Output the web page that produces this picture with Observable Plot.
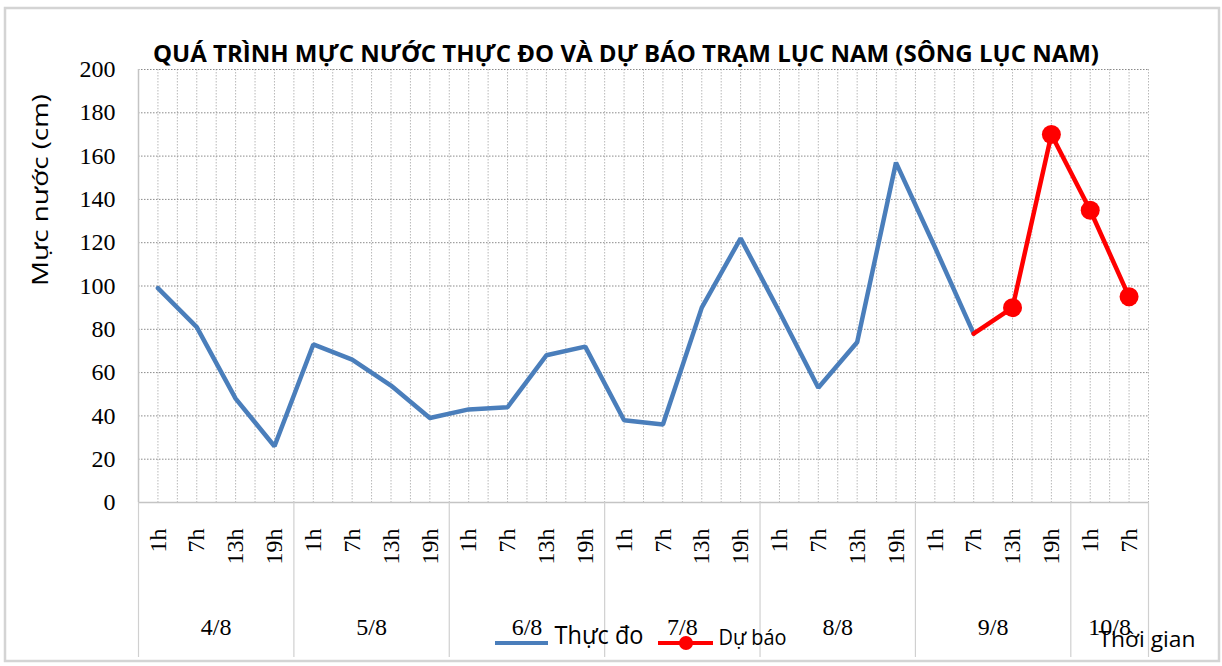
<!DOCTYPE html>
<html><head><meta charset="utf-8">
<script src="https://cdn.jsdelivr.net/npm/d3@7"></script>
<script src="https://cdn.jsdelivr.net/npm/@observablehq/plot@0.6"></script>
<style>html,body{margin:0;padding:0;background:#fff;}</style>
</head><body><div id="chart"></div>
<script>
const title = "QUÁ TRÌNH MỰC NƯỚC THỰC ĐO VÀ DỰ BÁO TRẠM LỤC NAM (SÔNG LỤC NAM)";
const yLabel = "Mực nước (cm)";
const xLabel = "Thời gian";
const seriesNames = ["Thực đo", "Dự báo"];
const catDay = ["4/8","4/8","4/8","4/8","5/8","5/8","5/8","5/8","6/8","6/8","6/8","6/8",
                "7/8","7/8","7/8","7/8","8/8","8/8","8/8","8/8","9/8","9/8","9/8","9/8","10/8","10/8"];
const catHour = ["1h","7h","13h","19h","1h","7h","13h","19h","1h","7h","13h","19h",
                 "1h","7h","13h","19h","1h","7h","13h","19h","1h","7h","13h","19h","1h","7h"];
const observed = [99,81,48,26, 73,66,54,39, 43,44,68,72, 38,36,90,122, 88,53,74,157, 118,78];
const forecastStart = 21;
const forecast = [78,90,170,135,95];
const yTicks = [0,20,40,60,80,100,120,140,160,180,200];

const cats = catDay.map((d,i)=>({i, day:d, hour:catHour[i]}));
const obsData = observed.map((v,i)=>({i, v}));
const fcData = forecast.map((v,k)=>({i: forecastStart+k, v}));
const n = cats.length;
const halfTicks = d3.range(0, n, 0.5);
const dayGroups = d3.groups(cats, d=>d.day).map(([day, arr])=>({day, c: d3.mean(arr, d=>d.i), lo: d3.min(arr,d=>d.i)-0.5, hi: d3.max(arr,d=>d.i)+0.5}));
const seps = Array.from(new Set(dayGroups.flatMap(g=>[g.lo, g.hi])));

const serif = "'Liberation Serif', serif";
const sans = "'Open Sans', sans-serif";
const blue = "#4a7ebb", red = "#ff0000";

const svg = Plot.plot({
  width: 1222, height: 666,
  marginLeft: 138, marginRight: 74, marginTop: 69, marginBottom: 164,
  x: {type: "linear", domain: [-0.5, n - 0.5], axis: null},
  y: {domain: [0, 200], axis: null},
  style: {background: "#fff", color: "#000", fontFamily: sans, overflow: "visible"},
  marks: [
    // chart border
    (index, scales, values, dim) => {
      const r = d3.create("svg:rect").attr("x", 5).attr("y", 8).attr("width", dim.width - 8).attr("height", dim.height - 13)
        .attr("fill", "none").attr("stroke", "#d4d4d4").attr("stroke-width", 2.5);
      return r.node();
    },
    Plot.ruleX(halfTicks, {stroke: "#b8b8b8", strokeDasharray: "1.5,1.5", strokeWidth: 1}),
    Plot.gridY(yTicks, {stroke: "#8a8a8a", strokeOpacity: 1, strokeDasharray: "1.5,1.5", strokeWidth: 1}),
    Plot.ruleX([-0.5], {y1: 0, y2: 200, stroke: "#c4c4c4", strokeWidth: 1.5}),
    Plot.ruleY([0], {stroke: "#c4c4c4", strokeWidth: 1.5}),
    Plot.ruleX(seps, {y1: 0, y2: -71.6, stroke: "#d0d0d0", strokeWidth: 1.2}),
    Plot.axisY(yTicks, {tickSize: 0, tickPadding: 23, fontSize: 24, fontFamily: serif, label: null}),
    Plot.text(cats, {x: "i", y: 0, text: "hour", rotate: -90, textAnchor: "end", dy: 26, fontSize: 24, fontFamily: serif, fill: "#000"}),
    Plot.text(dayGroups, {x: "c", y: 0, text: "day", dy: 125, fontSize: 24, fontFamily: serif, fill: "#000"}),
    Plot.line(obsData, {x: "i", y: "v", stroke: blue, strokeWidth: 4.5, strokeLinejoin: "miter"}),
    Plot.line(fcData, {x: "i", y: "v", stroke: red, strokeWidth: 4.5}),
    Plot.dot(fcData.slice(1), {x: "i", y: "v", r: 9.5, fill: red, stroke: "none"}),
    Plot.text([title], {frameAnchor: "top", dx: -17.5, dy: -25, fontSize: 24, fontWeight: "bold", fontFamily: sans, fill: "#000"}),
    Plot.text([yLabel], {frameAnchor: "left", dx: -98, rotate: -90, fontSize: 22, fontFamily: sans, fill: "#000"}),
    Plot.text([xLabel], {frameAnchor: "bottom-right", dx: -50, dy: 144, textAnchor: "start", fontSize: 22, fontFamily: sans, fill: "#000"}),
    // legend samples
    (index, scales, values, dim) => {
      const g = d3.create("svg:g");
      g.append("line").attr("x1", 495).attr("x2", 548).attr("y1", 643).attr("y2", 643).attr("stroke", blue).attr("stroke-width", 4);
      g.append("line").attr("x1", 658).attr("x2", 713).attr("y1", 643).attr("y2", 643).attr("stroke", red).attr("stroke-width", 4);
      g.append("circle").attr("cx", 686).attr("cy", 643).attr("r", 7).attr("fill", red);
      return g.node();
    },
    Plot.text([seriesNames[0]], {frameAnchor: "bottom-left", dx: 416, dy: 141, textAnchor: "start", fontSize: 25, fontFamily: sans, fill: "#000"}),
    Plot.text([seriesNames[1]], {frameAnchor: "bottom-left", dx: 580, dy: 142.5, textAnchor: "start", fontSize: 21, fontFamily: sans, fill: "#000"})
  ]
});
document.getElementById("chart").append(svg);
const fit = {};
fit[title] = 946; fit[yLabel] = 192; fit[xLabel] = 97; fit[seriesNames[0]] = 89; fit[seriesNames[1]] = 68;
d3.select(svg).selectAll("text").each(function(){
  const t = this.textContent;
  if (fit[t]) { this.setAttribute("textLength", fit[t]); this.setAttribute("lengthAdjust", "spacingAndGlyphs"); }
});
</script></body></html>
